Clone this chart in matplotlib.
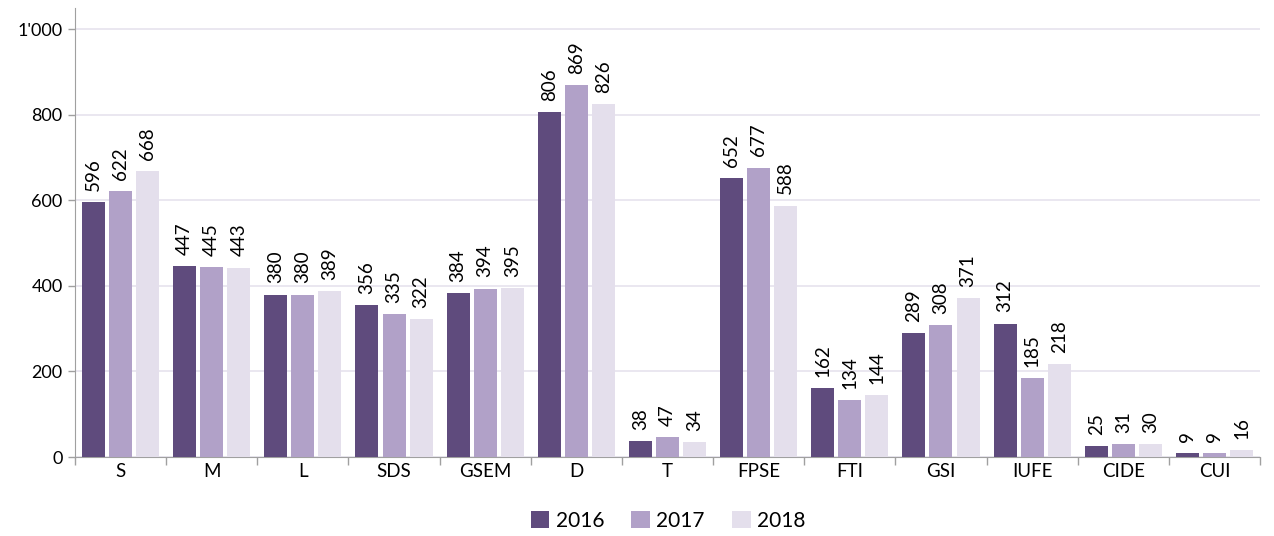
import matplotlib
matplotlib.use("Agg")
import matplotlib.pyplot as plt
import numpy as np
from matplotlib.patches import Patch

categories = ["S", "M", "L", "SDS", "GSEM", "D", "T", "FPSE", "FTI", "GSI", "IUFE", "CIDE", "CUI"]
v2016 = [596, 447, 380, 356, 384, 806, 38, 652, 162, 289, 312, 25, 9]
v2017 = [622, 445, 380, 335, 394, 869, 47, 677, 134, 308, 185, 31, 9]
v2018 = [668, 443, 389, 322, 395, 826, 34, 588, 144, 371, 218, 30, 16]
years = ["2016", "2017", "2018"]
colors = ["#5F4B7D", "#B1A1C8", "#E4DFEC"]

plt.rcParams['font.family'] = ['Lato', 'DejaVu Sans']

fig = plt.figure(figsize=(12.74, 5.36), dpi=100)
ax = fig.add_axes([75/1274, (536-457)/536, (1260-75)/1274, (457-8)/536])

x = np.arange(len(categories))
bw = 0.253
step = 0.297
for i, (vals, c) in enumerate(zip([v2016, v2017, v2018], colors)):
    pos = x + (i - 1) * step
    ax.bar(pos, vals, width=bw, color=c, zorder=3)
    for p, v in zip(pos, vals):
        ax.annotate(str(v), (p, v), xytext=(0, 8), textcoords="offset points",
                    rotation=90, ha="center", va="bottom", fontsize=13.5, color="#000000")

ax.set_xlim(-0.5, len(categories) - 0.5)
ax.set_ylim(0, 1050)
ax.set_yticks([0, 200, 400, 600, 800, 1000])
ax.set_yticklabels(["0", "200", "400", "600", "800", "1'000"], fontsize=13)
ax.yaxis.grid(True, color="#E6E3EE", linewidth=1.2, zorder=0)
ax.set_axisbelow(True)

ax.set_xticks(x)
ax.set_xticklabels(categories, fontsize=13.5)
ax.tick_params(axis="x", length=0, pad=4)
ax.set_xticks(np.arange(-0.5, len(categories), 1), minor=True)
ax.tick_params(axis="x", which="minor", length=6, color="#A0A0A0", width=1)
ax.tick_params(axis="y", length=5, color="#A0A0A0", width=1, pad=4)

for s in ["top", "right"]:
    ax.spines[s].set_visible(False)
ax.spines["left"].set_color("#A0A0A0")
ax.spines["bottom"].set_color("#A0A0A0")

handles = [Patch(facecolor=c, label=y) for c, y in zip(colors, years)]
fig.legend(handles=handles, loc="center", bbox_to_anchor=(668/1274, 1 - 521/536),
           ncol=3, frameon=False, fontsize=15, handlelength=0.9, handleheight=0.9,
           handletextpad=0.3, columnspacing=1.3)

fig.savefig("out.png", dpi=100)
